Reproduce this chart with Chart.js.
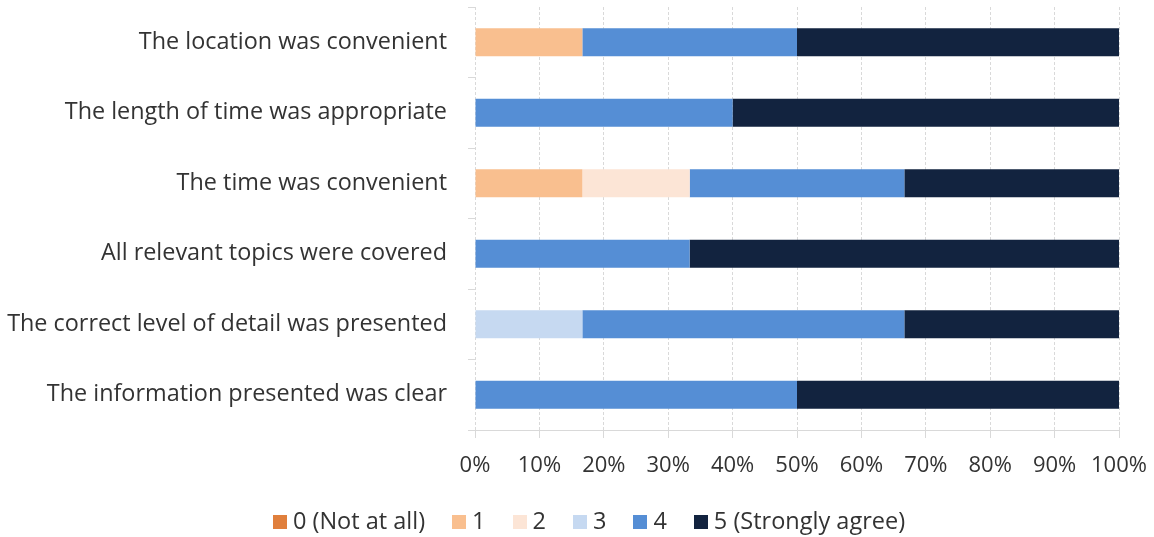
<!DOCTYPE html>
<html>
<head>
<meta charset="utf-8">
<script src="https://cdn.jsdelivr.net/npm/chart.js@4"></script>
<style>
html,body{margin:0;padding:0;background:#fff;}
#wrap{width:1154px;height:537px;}
</style>
</head>
<body>
<div id="wrap"><canvas id="c" width="1154" height="537"></canvas></div>
<script>
const categories = [
  "The location was convenient",
  "The length of time was appropriate",
  "The time was convenient",
  "All relevant topics were covered",
  "The correct level of detail was presented",
  "The information presented was clear"
];
const seriesNames = ["0 (Not at all)", "1", "2", "3", "4", "5 (Strongly agree)"];
const s0 = [0, 0, 0, 0, 0, 0];
const s1 = [16.67, 0, 16.67, 0, 0, 0];
const s2 = [0, 0, 16.67, 0, 0, 0];
const s3 = [0, 0, 0, 0, 16.67, 0];
const s4 = [33.33, 40, 33.33, 33.33, 50, 50];
const s5 = [50, 60, 33.33, 66.67, 33.33, 50];
const colors = ["#E07F3C", "#F9BF8F", "#FCE5D6", "#C6D9F1", "#558ED5", "#12233F"];
const xTicks = [0,10,20,30,40,50,60,70,80,90,100];

const seriesData = [s0, s1, s2, s3, s4, s5];
const datasets = seriesData.map((d, i) => ({
  label: seriesNames[i],
  data: d,
  backgroundColor: colors[i],
  borderWidth: 0,
  barPercentage: 0.4,
  categoryPercentage: 1.0
}));

const FONT = "'Open Sans', 'Liberation Sans', sans-serif";
const TEXT_COLOR = '#333333';

// Custom bottom legend (Excel style: small square, tight gap)
const bottomLegend = {
  id: 'bottomLegend',
  afterDraw(chart) {
    const ctx = chart.ctx;
    const box = 14, gap = 6, spacing = 27, size = 23.5;
    const cy = 522;
    ctx.save();
    ctx.font = size + "px " + FONT;
    ctx.textBaseline = 'middle';
    ctx.textAlign = 'left';
    const items = chart.data.datasets.map(ds => ({
      text: ds.label, color: ds.backgroundColor, w: ctx.measureText(ds.label).width
    }));
    let total = 0;
    items.forEach((it, i) => { total += box + gap + it.w + (i < items.length - 1 ? spacing : 0); });
    let x = 589 - total / 2;
    items.forEach(it => {
      ctx.fillStyle = it.color;
      ctx.fillRect(Math.round(x), cy - box / 2, box, box);
      x += box + gap;
      ctx.fillStyle = TEXT_COLOR;
      ctx.fillText(it.text, x, cy);
      x += it.w + spacing;
    });
    ctx.restore();
  }
};

new Chart(document.getElementById('c'), {
  type: 'bar',
  data: { labels: categories, datasets },
  plugins: [bottomLegend],
  options: {
    indexAxis: 'y',
    responsive: false,
    animation: false,
    devicePixelRatio: 1,
    layout: { padding: { top: 7, right: 35, left: 0, bottom: 49 } },
    plugins: {
      tooltip: { enabled: false },
      legend: { display: false }
    },
    scales: {
      x: {
        stacked: true,
        min: 0,
        max: 100,
        afterBuildTicks: (s) => { s.ticks = xTicks.map(v => ({ value: v })); },
        afterFit: (s) => { s.height = 58; s.paddingLeft = 0; s.paddingRight = 0; },
        ticks: {
          callback: v => v + '%',
          font: { family: FONT, size: 22 },
          color: TEXT_COLOR,
          padding: 15,
          maxRotation: 0
        },
        grid: {
          color: '#D9D9D9',
          lineWidth: 1,
          tickLength: 8
        },
        border: { color: '#D9D9D9', dash: [3, 2] }
      },
      y: {
        stacked: true,
        afterFit: (s) => { s.width = 475; s.paddingTop = 0; s.paddingBottom = 0; },
        ticks: {
          font: { family: FONT, size: 23.4 },
          color: TEXT_COLOR,
          padding: 21
        },
        grid: {
          offset: true,
          drawOnChartArea: false,
          color: '#D9D9D9',
          tickLength: 7
        },
        border: { display: false }
      }
    }
  }
});
</script>
</body>
</html>
